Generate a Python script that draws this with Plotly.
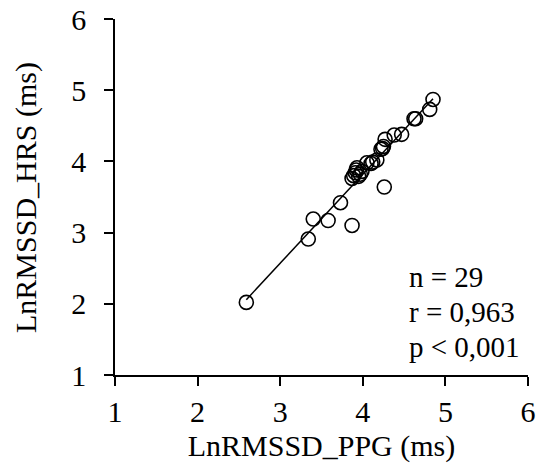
import numpy as np
import plotly.graph_objects as go

ppg = [2.59, 3.34, 3.40, 3.58, 3.73, 3.87, 4.26,
       3.87, 3.89, 3.91, 3.92, 3.93, 3.95, 3.97, 3.99,
       4.05, 4.10, 4.12, 4.17,
       4.22, 4.24, 4.25, 4.27,
       4.38, 4.47,
       4.62, 4.64,
       4.81, 4.85]
hrs = [2.02, 2.91, 3.19, 3.17, 3.42, 3.10, 3.64,
       3.76, 3.80, 3.84, 3.88, 3.91, 3.79, 3.82, 3.86,
       3.98, 3.97, 3.99, 4.02,
       4.17, 4.18, 4.21, 4.31,
       4.37, 4.38,
       4.60, 4.60,
       4.73, 4.87]

stats_text = ["n = 29", "r = 0,963", "p < 0,001"]
stats_y = [2.38, 1.89, 1.40]
x_ticks = [1, 2, 3, 4, 5, 6]
y_ticks = [1, 2, 3, 4, 5, 6]
x_title = "LnRMSSD_PPG (ms)"
y_title = "LnRMSSD_HRS (ms)"

slope, intercept = np.polyfit(ppg, hrs, 1)
xl = [min(ppg), max(ppg)]
yl = [slope * v + intercept for v in xl]

font = "Liberation Serif, Times New Roman, serif"
FS = 30

fig = go.Figure()
fig.add_trace(go.Scatter(x=xl, y=yl, mode="lines",
                         line=dict(color="black", width=1.5), showlegend=False))
fig.add_trace(go.Scatter(x=ppg, y=hrs, mode="markers",
                         marker=dict(symbol="circle-open", size=14, color="black",
                                     line=dict(width=1.6, color="black")),
                         showlegend=False))

for t, yv in zip(stats_text, stats_y):
    fig.add_annotation(x=4.54, y=yv, xref="x", yref="y", xanchor="left", yanchor="middle",
                       text=t, align="left", showarrow=False,
                       font=dict(family=font, size=29, color="black"))

# y-axis title as rotated annotation (placed further left than plotly's auto title)
fig.add_annotation(x=-0.2155, y=0.5, xref="paper", yref="paper", xanchor="center", yanchor="middle",
                   text=y_title, textangle=-90, showarrow=False,
                   font=dict(family=font, size=FS, color="black"))

axis_common = dict(showgrid=False, zeroline=False, showline=True, linecolor="black",
                   linewidth=1.5, ticks="outside", ticklen=9, tickcolor="black",
                   tickwidth=1.5, ticklabeloverflow="allow",
                   tickfont=dict(family=font, size=FS, color="black"))

fig.update_xaxes(range=[1, 6], tickvals=x_ticks,
                 title=dict(text=x_title, font=dict(family=font, size=FS, color="black"), standoff=8),
                 **axis_common)
fig.update_yaxes(range=[1, 6], tickvals=y_ticks, ticklabelstandoff=12, **axis_common)

fig.update_layout(width=548, height=463, paper_bgcolor="white", plot_bgcolor="white",
                  margin=dict(l=115, r=20, t=19, b=88, autoexpand=False))

fig.write_html("out.html", config={"displayModeBar": False},
               post_script="document.body.style.margin='0';")
